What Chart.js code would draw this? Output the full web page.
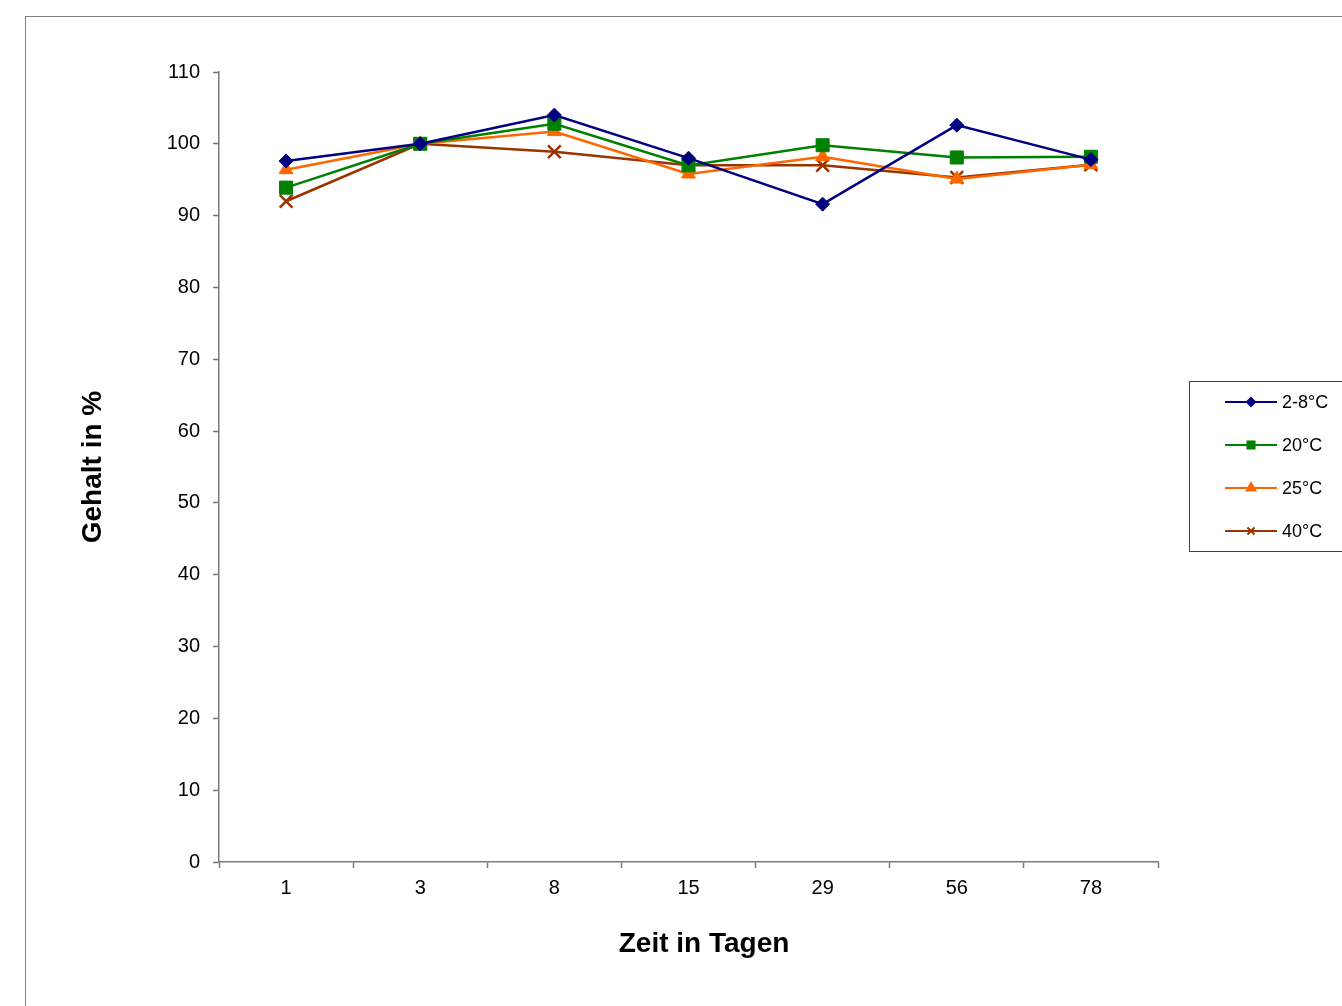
<!DOCTYPE html>
<html>
<head>
<meta charset="utf-8">
<script src="https://cdn.jsdelivr.net/npm/chart.js@4.4.1/dist/chart.umd.min.js"></script>
<style>
  html, body { margin: 0; padding: 0; background: #fff; overflow: hidden; }
  #frame {
    position: absolute; left: 25px; top: 16px;
    width: 1400px; height: 1100px;
    border: 1px solid #808080; box-sizing: border-box;
  }
  #wrap { position: absolute; left: 0; top: 0; width: 1342px; height: 1006px; }
</style>
</head>
<body>
<div id="frame"></div>
<div id="wrap"><canvas id="chart"></canvas></div>
<script>
const tage = ["1", "3", "8", "15", "29", "56", "78"];
const yTicks = [0, 10, 20, 30, 40, 50, 60, 70, 80, 90, 100, 110];

const serie2bis8 = [97.6, 100.0, 104.0, 98.0, 91.6, 102.6, 97.8];
const serie20 = [93.9, 100.0, 102.8, 97.0, 99.8, 98.1, 98.2];
const serie25 = [96.4, 100.0, 101.7, 95.8, 98.2, 95.1, 97.1];
const serie40 = [92.0, 100.0, 98.9, 97.0, 97.0, 95.3, 97.1];

const FONT = "'Liberation Sans', Arial, sans-serif";
const AXIS_GRAY = "#7a7a7a";

function ds(label, data, color, style, radius) {
  return {
    label: label,
    data: data,
    borderColor: color,
    backgroundColor: color,
    borderWidth: 2.5,
    pointStyle: style,
    pointRadius: radius,
    pointHoverRadius: radius,
    pointBorderWidth: style === "crossRot" ? 2.5 : 1,
    tension: 0,
    fill: false
  };
}

// simple legend box drawn like the Excel one
const excelLegend = {
  id: "excelLegend",
  afterDraw(chart) {
    const ctx = chart.ctx;
    ctx.save();
    ctx.strokeStyle = "#404040";
    ctx.lineWidth = 1;
    ctx.strokeRect(1189.5, 381.5, 200, 170);
    chart.data.datasets.forEach(function (d, i) {
      const y = 402 + i * 43;
      ctx.strokeStyle = d.borderColor;
      ctx.fillStyle = d.backgroundColor;
      ctx.lineWidth = 2;
      ctx.beginPath();
      ctx.moveTo(1225, y);
      ctx.lineTo(1277, y);
      ctx.stroke();
      Chart.helpers.drawPoint(ctx, {
        pointStyle: d.pointStyle,
        radius: d.pointStyle === "rectRot" ? 4 : 5,
        rotation: 0,
        borderWidth: d.pointStyle === "crossRot" ? 2 : 1
      }, 1251, y);
      ctx.fillStyle = "#000";
      ctx.font = "18px " + FONT;
      ctx.textBaseline = "middle";
      ctx.fillText(d.label, 1282, y + 1);
    });
    ctx.restore();
  }
};

Chart.defaults.font.family = FONT;
Chart.defaults.color = "#000";

new Chart(document.getElementById("chart"), {
  type: "line",
  data: {
    labels: tage,
    datasets: [
      ds("2-8°C", serie2bis8, "#000080", "rectRot", 7),
      ds("20°C", serie20, "#008000", "rect", 9.2),
      ds("25°C", serie25, "#FF6600", "triangle", 8),
      ds("40°C", serie40, "#993300", "crossRot", 9)
    ]
  },
  options: {
    responsive: true,
    maintainAspectRatio: false,
    animation: false,
    layout: { padding: { left: 76, right: 184, top: 72, bottom: 40 } },
    plugins: {
      legend: { display: false },
      tooltip: { enabled: false }
    },
    scales: {
      x: {
        offset: true,
        afterFit(scale) { scale.height = 104; },
        grid: {
          offset: true,
          drawOnChartArea: false,
          color: AXIS_GRAY,
          tickLength: 6,
          tickWidth: 1.5
        },
        border: { color: AXIS_GRAY, width: 1.5 },
        ticks: { font: { size: 20 }, padding: 8, maxRotation: 0 },
        title: {
          display: true,
          // leading spaces nudge the centred title right, as in the original
          text: "    Zeit in Tagen",
          font: { size: 28, weight: "bold" },
          padding: { top: 0, bottom: 5 }
        }
      },
      y: {
        min: 0,
        max: 110,
        afterFit(scale) { scale.width = 143; },
        afterBuildTicks(scale) {
          scale.ticks = yTicks.map(function (v) { return { value: v }; });
        },
        grid: {
          drawOnChartArea: false,
          color: AXIS_GRAY,
          tickLength: 6,
          tickWidth: 1.5
        },
        border: { color: AXIS_GRAY, width: 1.5 },
        ticks: { font: { size: 20 }, padding: 13 },
        title: {
          display: true,
          text: "Gehalt in %",
          font: { size: 28, weight: "bold" },
          padding: { top: 0, bottom: 0 }
        }
      }
    }
  },
  plugins: [excelLegend]
});
</script>
</body>
</html>
